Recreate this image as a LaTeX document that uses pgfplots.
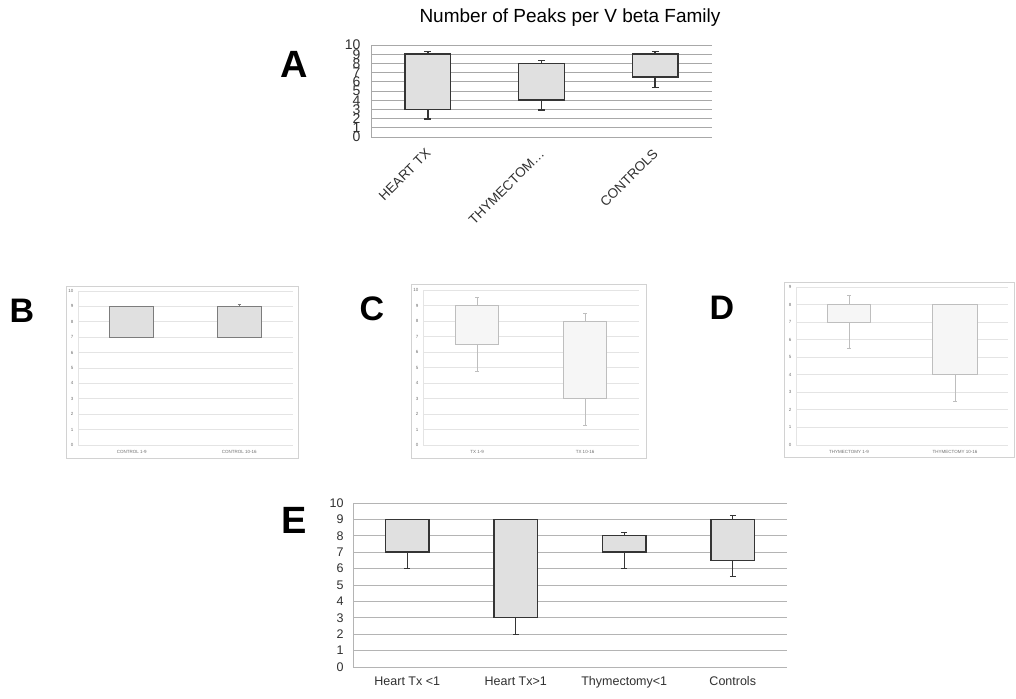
\documentclass[border=0pt]{standalone}
\usepackage{fontspec}
\setmainfont{Liberation Sans}
\usepackage{pgfplots}
\pgfplotsset{compat=1.18}
\usepgfplotslibrary{statistics}

\definecolor{boxfill}{HTML}{E0E0E0}
\definecolor{boxedge}{HTML}{353535}
\definecolor{gridA}{HTML}{A8A8A8}
\definecolor{gridE}{HTML}{B4B4B4}
\definecolor{gridlight}{HTML}{E4E4E4}
\definecolor{framegray}{HTML}{D2D2D2}
\definecolor{palefill}{HTML}{F6F6F6}
\definecolor{paleedge}{HTML}{BEBEBE}
\definecolor{midedge}{HTML}{7C7C7C}
\definecolor{smalltext}{HTML}{6E6E6E}
\definecolor{labeltext}{HTML}{303030}

\newcommand\px[1]{\fontsize{#1}{#1}\selectfont}

\pgfplotsset{
  panel/.style={
    scale only axis, anchor=south west,
    /pgf/number format/assume math mode=true,
    ymin=0,
    axis x line*=bottom, axis y line*=left,
    axis line style={-},
    major tick length=0pt,
    ymajorgrids,
    boxplot/draw direction=y,
  },
  % large panels (A, E)
  bigpanel/.style={
    panel,
    ymax=10, ytick={0,...,10},
    grid style={gridA, line width=0.9pt},
    axis line style={gridA, line width=0.9pt},
    tick label style={text=labeltext},
  },
  % small panels (B, C, D)
  smallpanel/.style={
    panel,
    grid style={gridlight, line width=0.8pt},
    axis line style={gridlight, line width=0.8pt},
    tick label style={text=smalltext, font=\px{4.5}},
    yticklabel style={xshift=-1pt},
    xticklabel style={yshift=-1.5pt},
    xmin=-0.5, xmax=1.5, xtick={0,1},
  },
  darkbox/.style={draw=boxedge, line width=1.4pt,
    boxplot/every box/.style={fill=boxfill}},
  greybox/.style={draw=midedge, line width=1.1pt,
    boxplot/every box/.style={fill=boxfill}},
  palebox/.style={draw=paleedge, line width=0.9pt,
    boxplot/every box/.style={fill=palefill}},
}

\begin{document}
\begin{tikzpicture}[x=1pt, y=1pt]
\path[use as bounding box] (0,0) rectangle (1016,698);

% ---------------- A ----------------
\node[font=\px{19}] at (570,680) {Number of Peaks per V beta Family};
\node[font=\bfseries\px{38}, inner sep=0pt] at (294,634) {A};
\begin{axis}[bigpanel,
  at={(371pt,561pt)}, width=341pt, height=92pt,
  xmin=-0.5, xmax=2.5, xtick={0,1,2},
  xticklabels={HEART TX, THYMECTOM…, CONTROLS},
  tick label style={font=\px{14}},
  yticklabel style={xshift=-7pt},
  xticklabel style={font=\px{13.5}, xshift=-3pt, yshift=-6pt, rotate=45, anchor=north east},
]
\addplot[darkbox, boxplot prepared={draw position=0, lower whisker=1.96,
  lower quartile=3, median=3, upper quartile=9, upper whisker=9.27,
  box extend=0.4, whisker extend=0.06}] coordinates {};
\addplot[darkbox, boxplot prepared={draw position=1, lower whisker=2.93,
  lower quartile=4, median=4, upper quartile=8, upper whisker=8.3,
  box extend=0.4, whisker extend=0.06}] coordinates {};
\addplot[darkbox, boxplot prepared={draw position=2, lower whisker=5.4,
  lower quartile=6.5, median=6.5, upper quartile=9, upper whisker=9.27,
  box extend=0.4, whisker extend=0.06}] coordinates {};
\end{axis}

% ---------------- B ----------------
\node[font=\bfseries\px{34}, inner sep=0pt] at (22,387) {B};
\draw[framegray, line width=0.8pt] (66,240) rectangle (298,412);
\begin{axis}[smallpanel,
  at={(78pt,253pt)}, width=215pt, height=154pt,
  ymax=10, ytick={0,...,10},
  xticklabels={CONTROL 1-9, CONTROL 10-16},
]
\addplot[greybox, boxplot prepared={draw position=0, lower whisker=7,
  lower quartile=7, median=7, upper quartile=9, upper whisker=9,
  box extend=0.41, whisker extend=0.03}] coordinates {};
\addplot[greybox, boxplot prepared={draw position=1, lower whisker=7,
  lower quartile=7, median=7, upper quartile=9, upper whisker=9.1,
  box extend=0.41, whisker extend=0.03}] coordinates {};
\end{axis}

% ---------------- C ----------------
\node[font=\bfseries\px{34}, inner sep=0pt] at (372,389) {C};
\draw[framegray, line width=0.8pt] (411,240) rectangle (646,414);
\begin{axis}[smallpanel,
  at={(423pt,253pt)}, width=216pt, height=155pt,
  ymax=10, ytick={0,...,10},
  xticklabels={TX 1-9, TX 10-16},
]
\addplot[palebox, boxplot prepared={draw position=0, lower whisker=4.75,
  lower quartile=6.5, median=6.5, upper quartile=9, upper whisker=9.5,
  box extend=0.4, whisker extend=0.03}] coordinates {};
\addplot[palebox, boxplot prepared={draw position=1, lower whisker=1.25,
  lower quartile=3, median=3, upper quartile=8, upper whisker=8.5,
  box extend=0.4, whisker extend=0.03}] coordinates {};
\end{axis}

% ---------------- D ----------------
\node[font=\bfseries\px{34}, inner sep=0pt] at (722,390) {D};
\draw[framegray, line width=0.8pt] (784,241) rectangle (1014,416);
\begin{axis}[smallpanel,
  at={(796pt,253pt)}, width=212pt, height=158pt,
  ymax=9, ytick={0,...,9},
  xticklabels={THYMECTOMY 1-9, THYMECTOMY 10-16},
]
\addplot[palebox, boxplot prepared={draw position=0, lower whisker=5.5,
  lower quartile=7, median=7, upper quartile=8, upper whisker=8.5,
  box extend=0.4, whisker extend=0.03}] coordinates {};
\addplot[palebox, boxplot prepared={draw position=1, lower whisker=2.5,
  lower quartile=4, median=4, upper quartile=8, upper whisker=8,
  box extend=0.42, whisker extend=0.03}] coordinates {};
\end{axis}

% ---------------- E ----------------
\node[font=\bfseries\px{38}, inner sep=0pt] at (294,178) {E};
\begin{axis}[bigpanel,
  at={(353pt,31pt)}, width=434pt, height=164pt,
  grid style={gridE, line width=0.9pt},
  axis line style={gridE, line width=0.9pt},
  xmin=-0.5, xmax=3.5, xtick={0,1,2,3},
  xticklabels={Heart Tx <1, Heart Tx>1, Thymectomy<1, Controls},
  tick label style={font=\px{12.5}},
  yticklabel style={xshift=-6pt},
  xticklabel style={yshift=-6pt},
]
\addplot[darkbox, boxplot prepared={draw position=0, lower whisker=6,
  lower quartile=7, median=7, upper quartile=9, upper whisker=9,
  box extend=0.4, whisker extend=0.055}] coordinates {};
\addplot[darkbox, boxplot prepared={draw position=1, lower whisker=2,
  lower quartile=3, median=3, upper quartile=9, upper whisker=9,
  box extend=0.4, whisker extend=0.055}] coordinates {};
\addplot[darkbox, boxplot prepared={draw position=2, lower whisker=6,
  lower quartile=7, median=7, upper quartile=8, upper whisker=8.2,
  box extend=0.4, whisker extend=0.055}] coordinates {};
\addplot[darkbox, boxplot prepared={draw position=3, lower whisker=5.5,
  lower quartile=6.5, median=6.5, upper quartile=9, upper whisker=9.25,
  box extend=0.4, whisker extend=0.055}] coordinates {};
\end{axis}
\end{tikzpicture}
\end{document}
